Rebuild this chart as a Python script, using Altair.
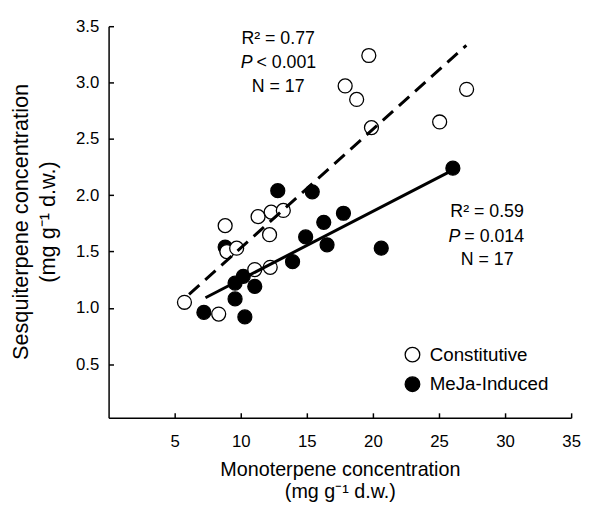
import altair as alt
import pandas as pd

FONT = "Liberation Sans"

groups = ["Constitutive", "MeJa-Induced"]

const_x = [5.74, 8.33, 8.82, 8.95, 9.69, 11.31, 12.30, 13.22, 12.18, 11.06, 12.23,
           19.69, 17.90, 18.77, 19.89, 25.05, 27.09]
const_y = [1.05, 0.945, 1.73, 1.50, 1.53, 1.81, 1.85, 1.865, 1.65, 1.34, 1.36,
           3.24, 2.97, 2.85, 2.60, 2.65, 2.94]

meja_x = [12.80, 15.41, 8.82, 14.91, 16.28, 17.77, 16.53, 13.92, 10.19, 9.57,
          11.06, 9.57, 7.21, 10.31, 26.05, 20.63]
meja_y = [2.04, 2.03, 1.54, 1.63, 1.76, 1.84, 1.56, 1.41, 1.28, 1.22,
          1.19, 1.08, 0.96, 0.92, 2.24, 1.53]

fit_const_x = [6.09, 27.07]
fit_const_y = [1.12, 3.33]
fit_meja_x = [7.33, 26.0]
fit_meja_y = [1.09, 2.22]

x_ticks = [5, 10, 15, 20, 25, 30, 35]
y_ticks = [0.5, 1.0, 1.5, 2.0, 2.5, 3.0, 3.5]

ann_text = ["R\u00b2 = 0.77", "N = 17", "R\u00b2 = 0.59", "N = 17"]
ann_x = [12.83, 12.83, 28.64, 28.64]
ann_y = [3.34, 2.92, 1.806, 1.383]

p_rest = ["< 0.001", "= 0.014"]
p_x = [10.89, 26.62]
p_y = [3.13, 1.587]

W, H = 469, 397

xs = alt.Scale(domain=[0, 35], nice=False, zero=False)
ys = alt.Scale(domain=[0.025, 3.5], nice=False, zero=False)

pts = pd.DataFrame({
    "x": meja_x + const_x,
    "y": meja_y + const_y,
    "group": [groups[1]] * len(meja_x) + [groups[0]] * len(const_x),
})

main_x_axis = alt.Axis(
    values=x_ticks, ticks=False, grid=False, labelFontSize=17, labelPadding=16,
    labelFlush=False, labelOverlap=False,
    labelColor="black", labelFont=FONT, domainColor="black", domainWidth=1.5,
    title=["Monoterpene concentration", "(mg g\u207b\u00b9 d.w.)"],
    titleFontSize=20, titleFontWeight="normal", titleFont=FONT, titleColor="black",
    titleBaseline="alphabetic", titleY=59, titleLineHeight=22,
)
main_y_axis = alt.Axis(
    values=y_ticks, format=".1f", ticks=False, grid=False, labelFontSize=17,
    labelPadding=10, labelFlush=False, labelOverlap=False,
    labelColor="black", labelFont=FONT, domainColor="black",
    domainWidth=1.5,
    title=["Sesquiterpene concentration", "(mg g\u207b\u00b9 d.w.)"],
    titleFontSize=22, titleFontWeight="normal", titleFont=FONT, titleColor="black",
    titleBaseline="alphabetic", titleAlign="center", titleAngle=270,
    titleX=-82, titleY=198, titleLineHeight=27,
)

points = alt.Chart(pts).mark_point(
    shape="circle", filled=True, size=200, stroke="black", strokeWidth=1.3, opacity=1
).encode(
    x=alt.X("x:Q", scale=xs, axis=main_x_axis),
    y=alt.Y("y:Q", scale=ys, axis=main_y_axis),
    fill=alt.Fill(
        "group:N",
        scale=alt.Scale(domain=groups, range=["white", "black"]),
        legend=alt.Legend(
            title=None, orient="none", legendX=298.6, legendY=323.5, padding=0,
            symbolSize=220, symbolStrokeColor="black", symbolStrokeWidth=1.3,
            symbolType="circle", labelFontSize=19, labelFont=FONT, labelColor="black",
            labelOffset=8, rowPadding=9,
        ),
    ),
)

tick_x_axis = alt.Axis(
    orient="top", offset=-H, values=x_ticks, labels=False, domain=False, grid=False,
    ticks=True, tickSize=5, tickWidth=1.5, tickColor="black", title=None,
)
tick_y_axis = alt.Axis(
    orient="right", offset=-W, values=y_ticks, labels=False, domain=False, grid=False,
    ticks=True, tickSize=5, tickWidth=1.5, tickColor="black", title=None,
)

line_const = alt.Chart(pd.DataFrame({"x": fit_const_x, "y": fit_const_y})).mark_line(
    color="black", strokeWidth=3, strokeDash=[14, 8]
).encode(
    x=alt.X("x:Q", scale=xs, axis=tick_x_axis),
    y=alt.Y("y:Q", scale=ys, axis=tick_y_axis),
)

line_meja = alt.Chart(pd.DataFrame({"x": fit_meja_x, "y": fit_meja_y})).mark_line(
    color="black", strokeWidth=3
).encode(
    x=alt.X("x:Q", scale=xs, axis=None),
    y=alt.Y("y:Q", scale=ys, axis=None),
)

ann = alt.Chart(pd.DataFrame({"x": ann_x, "y": ann_y, "t": ann_text})).mark_text(
    font=FONT, fontSize=18, color="black", align="center", baseline="alphabetic"
).encode(
    x=alt.X("x:Q", scale=xs, axis=None),
    y=alt.Y("y:Q", scale=ys, axis=None),
    text="t:N",
)

pdf = pd.DataFrame({"x": p_x, "y": p_y, "t": p_rest})
p_ital = alt.Chart(pdf).mark_text(
    font=FONT, fontSize=18, fontStyle="italic", color="black", align="right",
    baseline="alphabetic", text="P"
).encode(
    x=alt.X("x:Q", scale=xs, axis=None),
    y=alt.Y("y:Q", scale=ys, axis=None),
)
p_txt = alt.Chart(pdf).mark_text(
    font=FONT, fontSize=18, color="black", align="left", baseline="alphabetic", dx=4
).encode(
    x=alt.X("x:Q", scale=xs, axis=None),
    y=alt.Y("y:Q", scale=ys, axis=None),
    text="t:N",
)

chart = alt.layer(points, line_const, line_meja, ann, p_ital, p_txt).resolve_axis(
    x="independent", y="independent"
).properties(
    width=W, height=H,
    autosize=alt.AutoSizeParams(type="none"),
    padding={"left": 102, "top": 15, "right": 11, "bottom": 85},
    background="white",
).configure_view(stroke=None)

chart.save("out.html", embed_options={"renderer": "svg", "actions": False})
